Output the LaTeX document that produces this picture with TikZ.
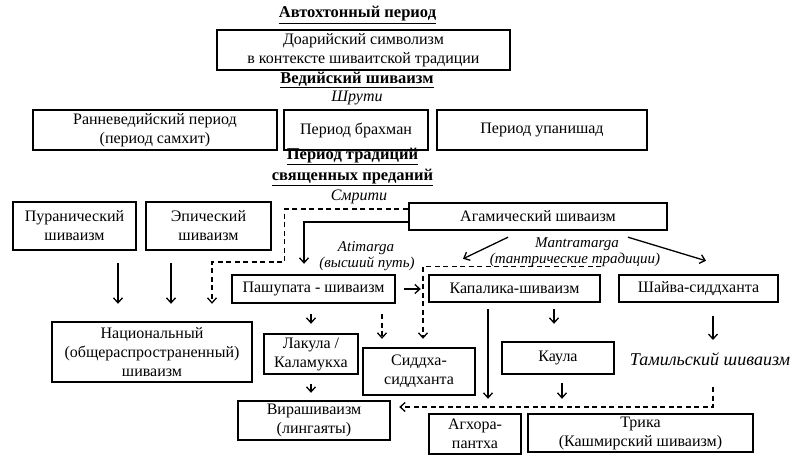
\documentclass[tikz,border=0pt]{standalone}
\usepackage{fontspec}
\setmainfont{Liberation Serif}
\usetikzlibrary{arrows.meta,calc}
\begin{document}
\begin{tikzpicture}[x=1pt,y=-1pt,
  box/.style={draw,line width=2.4pt,align=center,inner sep=0pt,font=\fontsize{16}{19}\selectfont},
  ttl/.style={align=center,inner sep=0pt,font=\fontsize{16.5}{21}\selectfont\bfseries},
  ital/.style={inner sep=0pt,font=\fontsize{16}{16}\selectfont\itshape},
  lab/.style={inner sep=0pt,font=\fontsize{15}{15}\selectfont\itshape},
  arr/.style={line width=1.3pt,-{Straight Barb[length=5pt,width=9pt]}},
  darr/.style={arr,dash pattern=on 5pt off 3.5pt}]
\useasboundingbox (0,0) rectangle (800,465);
% titles
\node[ttl] (t1) at (357.5,15) {\underline{Автохтонный период}};
\node[box,minimum width=293pt,minimum height=40pt] (dor) at (363.5,50) {Доарийский символизм\\в контексте шиваитской традиции};
\node[ttl] (t2) at (357,80) {\underline{Ведийский шиваизм}};
\node[ital] (shruti) at (357,98) {Шрути};
\node[box,minimum width=244pt,minimum height=40pt] (early) at (155,130) {Ранневедийский период\\(период самхит)};
\node[box,minimum width=144pt,minimum height=40pt] (brahm) at (356,130) {Период брахман};
\node[box,minimum width=210pt,minimum height=40pt] (upan) at (542,130) {Период упанишад};
\node[ttl] (t3) at (352.5,167) {\underline{Период традиций}\\\underline{священных преданий}};
\node[ital] (smriti) at (359,197) {Смрити};
% row of traditions
\node[box,minimum width=123pt,minimum height=48pt] (puran) at (74.5,226) {Пуранический\\шиваизм};
\node[box,minimum width=125pt,minimum height=48pt] (epic) at (208.5,226) {Эпический\\шиваизм};
\node[box,minimum width=258pt,minimum height=27pt] (agam) at (538,216.5) {Агамический шиваизм};
\node[lab] (atim) at (366,248.5) {Atimarga};
\node[lab] (atim2) at (367,263.5) {(высший путь)};
\node[lab] (mantra) at (577,244.5) {Mantramarga};
\node[lab] (mantra2) at (575,259.5) {(тантрические традиции)};
\node[box,minimum width=163pt,minimum height=28pt] (pashu) at (313.5,289) {Пашупата - шиваизм};
\node[box,minimum width=171pt,minimum height=27pt] (kapal) at (514.5,288.5) {Капалика-шиваизм};
\node[box,minimum width=159pt,minimum height=27pt] (shaiva) at (698.5,288.5) {Шайва-сиддханта};
\node[box,minimum width=200pt,minimum height=60pt] (nat) at (152,352) {Национальный\\(общераспространенный)\\шиваизм};
\node[box,minimum width=94pt,minimum height=40pt] (lakula) at (311,354) {Лакула /\\Каламукха};
\node[box,minimum width=112pt,minimum height=47pt] (siddha) at (419,371.5) {Сиддха-\\сиддханта};
\node[box,minimum width=112pt,minimum height=32pt] (kaula) at (558,358) {Каула};
\node[inner sep=0pt,font=\fontsize{18}{18}\selectfont\itshape] (tamil) at (710,359) {Тамильский шиваизм};
\node[box,minimum width=152pt,minimum height=39pt] (vira) at (314,420.5) {Вирашиваизм\\(лингаяты)};
\node[box,minimum width=92pt,minimum height=40pt] (aghora) at (475,434) {Агхора-\\пантха};
\node[box,minimum width=225pt,minimum height=38pt] (trika) at (640.5,433) {Трика\\(Кашмирский шиваизм)};
% connectors
\draw[arr,shorten <=12pt,shorten >=17pt] ($(puran.south)+(43.5,0)$) -- ($(nat.north)+(-34,0)$);
\draw[arr,shorten <=12pt,shorten >=17pt] ($(epic.south)+(-37.5,0)$) -- ($(nat.north)+(19,0)$);
\draw[darr,shorten >=17pt] ($(agam.west)+(0,-7.5)$) -- ++(-123,0) -- ++(0,53) -| ($(nat.north)+(60,0)$);
\draw[arr,shorten >=10pt] ($(agam.west)+(0,5.5)$) -| ($(pashu.north)+(-9.5,0)$);
\draw[arr] ($(agam.south)+(-30,6)$) -- ($(kapal.north)+(-51.5,-15)$);
\draw[arr] ($(agam.south)+(90,6)$) -- ($(shaiva.north)+(7.5,-13)$);
\draw[arr,shorten <=8pt,shorten >=7pt] (pashu.east) -- (pashu.east -| kapal.west);
\draw[darr,shorten >=8pt] ($(kapal.north east)+(0,-7)$) -| ($(siddha.north)+(4,0)$);
\draw[darr,shorten <=10pt,shorten >=8pt] ($(pashu.south)+(68.5,0)$) -- ($(siddha.north)+(-37,0)$);
\draw[arr,shorten <=10pt,shorten >=9pt] ($(pashu.south)+(-2.5,0)$) -- (lakula.north);
\draw[arr,shorten <=9pt,shorten >=7pt] (lakula.south) -- ($(vira.north)+(-3,0)$);
\draw[arr,shorten <=6pt,shorten >=14pt] ($(kapal.south)+(-26.5,0)$) -- ($(aghora.north)+(13,0)$);
\draw[arr,shorten <=6pt,shorten >=17pt] ($(kapal.south)+(39.5,0)$) -- ($(kaula.north)+(-4,0)$);
\draw[arr,shorten <=8pt,shorten >=14pt] ($(kaula.south)+(4,0)$) -- ($(trika.north)+(-78.5,0)$);
\draw[arr] ($(shaiva.south)+(14.5,13)$) -- ($(tamil.center)+(3,-19)$);
\draw[darr] ($(tamil.center)+(3,28)$) |- ($(vira.east)+(8,-13.5)$);
\end{tikzpicture}
\end{document}
